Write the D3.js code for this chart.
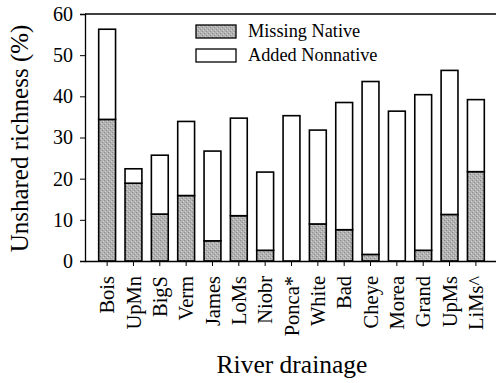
<!DOCTYPE html>
<html>
<head>
<meta charset="utf-8">
<script src="https://cdn.jsdelivr.net/npm/d3@7"></script>
<style>
  body { margin: 0; background: #fff; }
  svg text { font-family: "Liberation Serif", "DejaVu Serif", serif; fill: #000; }
</style>
</head>
<body>
<div id="chart"></div>
<script>
var drainages = ["Bois", "UpMn", "BigS", "Verm", "James", "LoMs", "Niobr", "Ponca*",
                 "White", "Bad", "Cheye", "Morea", "Grand", "UpMs", "LiMs^"];
var missingNative = [34.4, 18.9, 11.4, 15.9, 4.9, 11.0, 2.6, 0, 9.0, 7.6, 1.6, 0, 2.6, 11.3, 21.7];
var addedNonnative = [21.9, 3.5, 14.3, 18.0, 21.8, 23.7, 19.0, 35.3, 22.8, 30.9, 42.0, 36.4, 37.8, 35.0, 17.5];
var yTicks = [0, 10, 20, 30, 40, 50, 60];

var w = 496;
var h = 383;
var plotLeft = 85, plotTop = 14, plotBottom = 261, plotRight = 498;

var svg = d3.select("#chart")
            .append("svg")
            .attr("width", w)
            .attr("height", h);

// stippled grey fill
var pat = svg.append("defs").append("pattern")
             .attr("id", "stipple")
             .attr("width", 4)
             .attr("height", 4)
             .attr("patternUnits", "userSpaceOnUse");
pat.append("rect").attr("width", 4).attr("height", 4).attr("fill", "#b2b2b2");
pat.append("rect").attr("x", 0).attr("y", 0).attr("width", 1).attr("height", 1).attr("fill", "#8c8c8c");
pat.append("rect").attr("x", 2).attr("y", 2).attr("width", 1).attr("height", 1).attr("fill", "#8c8c8c");
pat.append("rect").attr("x", 3).attr("y", 1).attr("width", 1).attr("height", 1).attr("fill", "#d0d0d0");
pat.append("rect").attr("x", 1).attr("y", 3).attr("width", 1).attr("height", 1).attr("fill", "#d0d0d0");

var x = d3.scaleBand()
          .domain(drainages)
          .range([plotLeft, plotRight])
          .paddingInner(0.36)
          .paddingOuter(0.52);

var y = d3.scaleLinear()
          .domain([0, 60])
          .range([plotBottom, plotTop]);

var rows = drainages.map(function(d, i) {
    return { name: d, missing: missingNative[i], added: addedNonnative[i] };
});
var stacked = d3.stack().keys(["missing", "added"])(rows);
var fills = { missing: "url(#stipple)", added: "#fff" };

// bars
svg.selectAll("g.layer")
   .data(stacked)
   .enter()
   .append("g")
   .attr("class", "layer")
   .attr("fill", function(d) { return fills[d.key]; })
   .selectAll("rect")
   .data(function(d) { return d.filter(function(p) { return p[1] - p[0] > 0; }); })
   .enter()
   .append("rect")
   .attr("x", function(d) { return x(d.data.name); })
   .attr("y", function(d) { return y(d[1]); })
   .attr("width", x.bandwidth())
   .attr("height", function(d) { return y(d[0]) - y(d[1]); })
   .attr("stroke", "#000")
   .attr("stroke-width", 1.6);

// frame top line
svg.append("line")
   .attr("x1", plotLeft).attr("x2", plotRight)
   .attr("y1", plotTop).attr("y2", plotTop)
   .attr("stroke", "#000").attr("stroke-width", 1.3);

// y axis
var yAxis = svg.append("g")
   .attr("transform", "translate(" + plotLeft + ",0)")
   .call(d3.axisLeft(y).tickValues(yTicks).tickSize(5).tickPadding(7));
yAxis.select(".domain").attr("stroke-width", 1.3);
yAxis.selectAll("text")
     .style("font-size", "20px")
     .style("font-family", "Liberation Serif");

// x axis
var xAxis = svg.append("g")
   .attr("transform", "translate(0," + plotBottom + ")")
   .call(d3.axisBottom(x).tickSize(5).tickSizeOuter(0));
xAxis.select(".domain").attr("stroke-width", 1.3);
xAxis.selectAll("text")
     .style("font-size", "20.5px")
     .style("font-family", "Liberation Serif")
     .attr("transform", "rotate(-90)")
     .attr("text-anchor", "end")
     .attr("x", -15)
     .attr("y", 0)
     .attr("dy", "0.35em");

// axis titles
svg.append("text")
   .attr("transform", "translate(28," + ((plotTop + plotBottom) / 2 + 1) + ") rotate(-90)")
   .attr("text-anchor", "middle")
   .style("font-size", "25px")
   .text("Unshared richness (%)");

svg.append("text")
   .attr("x", 292)
   .attr("y", 373)
   .attr("text-anchor", "middle")
   .style("font-size", "25.5px")
   .text("River drainage");

// legend
var legendItems = [
    { label: "Missing Native", fill: "url(#stipple)" },
    { label: "Added Nonnative", fill: "#fff" }
];
var legend = svg.selectAll("g.legend")
   .data(legendItems)
   .enter()
   .append("g")
   .attr("class", "legend")
   .attr("transform", function(d, i) { return "translate(196," + (25 + i * 24) + ")"; });
legend.append("rect")
      .attr("width", 40)
      .attr("height", 13)
      .attr("fill", function(d) { return d.fill; })
      .attr("stroke", "#000")
      .attr("stroke-width", 1.3);
legend.append("text")
      .attr("x", 52)
      .attr("y", 12)
      .style("font-size", "18.3px")
      .text(function(d) { return d.label; });
</script>
</body>
</html>
